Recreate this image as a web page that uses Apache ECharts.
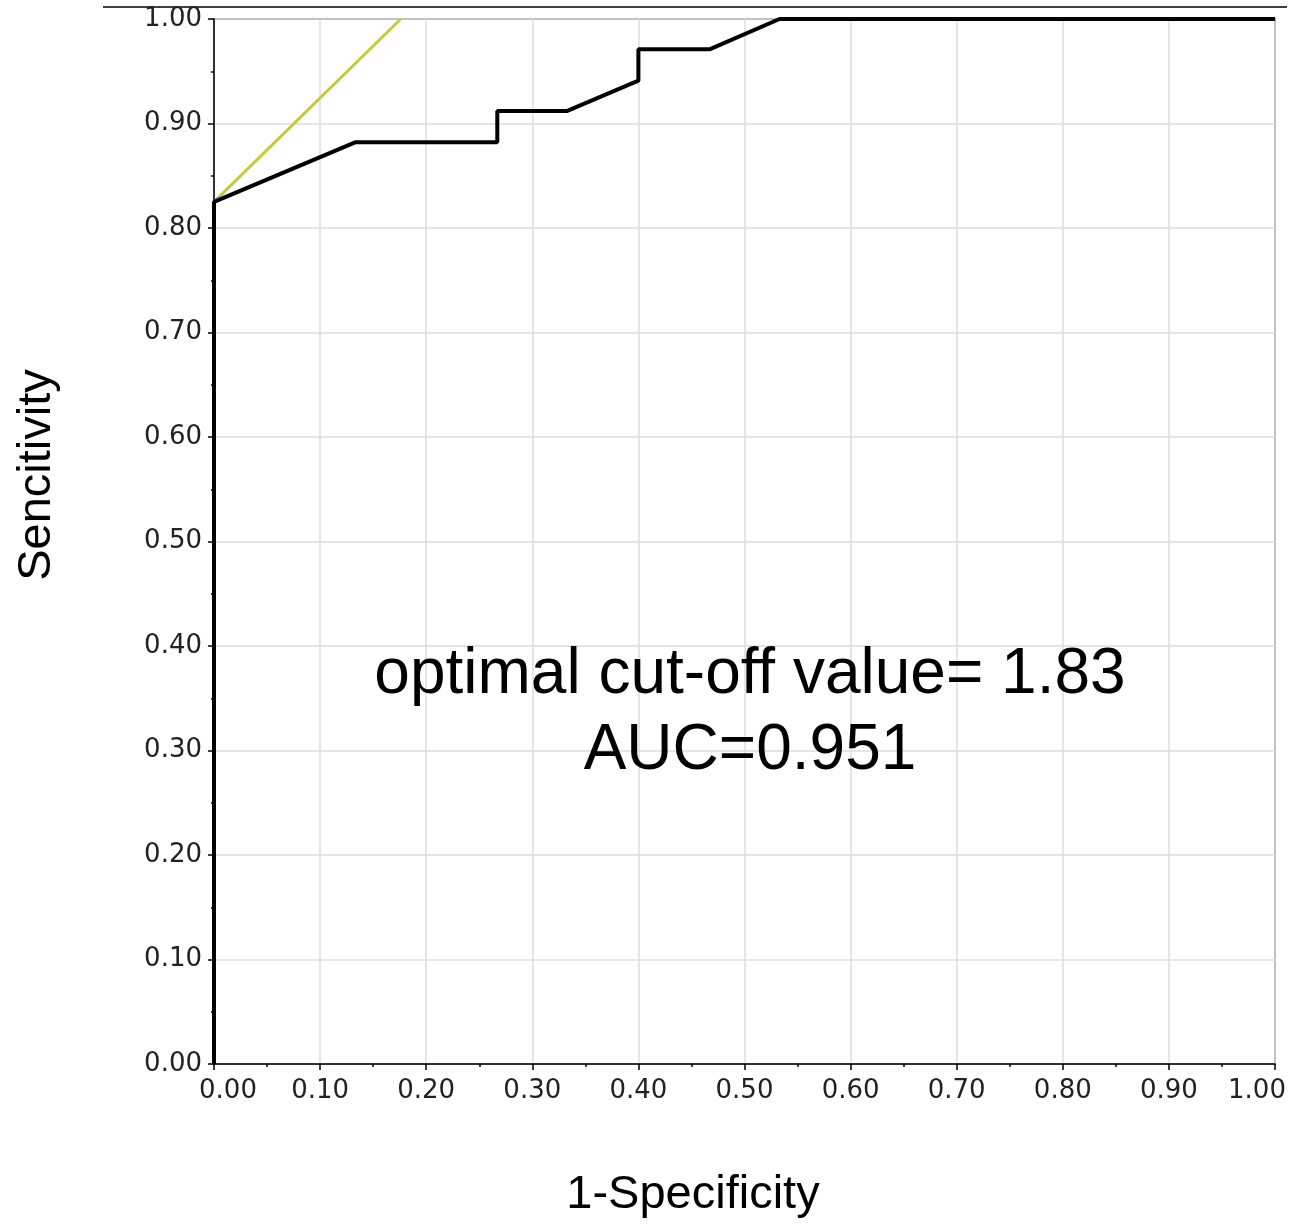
<!DOCTYPE html>
<html>
<head>
<meta charset="utf-8">
<script src="https://cdn.jsdelivr.net/npm/echarts@6/dist/echarts.min.js"></script>
<style>
  html, body { margin: 0; padding: 0; background: #fff; }
  #chart { width: 1295px; height: 1225px; }
</style>
</head>
<body>
<div id="chart"></div>
<script>
// ROC curve (x = 1-specificity, y = sensitivity)
const rocX = [0, 0, 0.133, 0.267, 0.267, 0.333, 0.4, 0.4, 0.467, 0.533, 1.0];
const rocY = [0, 0.825, 0.882, 0.882, 0.912, 0.912, 0.941, 0.971, 0.971, 1.0, 1.0];

// tangent line through the optimal cut-off point
const tangentX = [0, 0.176];
const tangentY = [0.825, 1.0];

const annotationLines = ["optimal cut-off value= 1.83", "AUC=0.951"];
const xName = "1-Specificity";
const yName = "Sencitivity";

const tickFont = { fontFamily: "DejaVu Sans", fontSize: 26, color: "#222" };

const chart = echarts.init(document.getElementById("chart"));

function axis(extra) {
  return Object.assign({
    type: "value",
    min: 0,
    max: 1,
    interval: 0.1,
    axisLine: { show: true, onZero: false, lineStyle: { color: "#000", width: 1.5 } },
    axisTick: { show: true, inside: false, length: 6, lineStyle: { color: "#000", width: 1.5 } },
    minorTick: { show: true, splitNumber: 2, length: 3, lineStyle: { color: "#000", width: 1.5 } },
    splitLine: { show: true, lineStyle: { color: "#dcdcdc", width: 1.5 } },
    axisLabel: Object.assign({ margin: 12, formatter: (v) => v.toFixed(2) }, tickFont)
  }, extra);
}

// first and last x labels are nudged inside the plot, as in the original
function xLabel(v) {
  const text = v.toFixed(2);
  if (v === 0) return `{first|${text}}`;
  if (v === 1) return `{last|${text}}`;
  return text;
}

function bigText(text, x, y, size, rotation) {
  return {
    type: "text",
    x,
    y,
    z: 100,
    rotation: rotation || 0,
    style: { text, fontFamily: "Liberation Sans", fontSize: size, fill: "#000", align: "center", verticalAlign: "middle" }
  };
}

chart.setOption({
  animation: false,
  backgroundColor: "#fff",
  grid: {
    left: 214, right: 20, top: 19, bottom: 161,
    outerBoundsMode: "none", containLabel: false,
    show: true, borderColor: "#444", borderWidth: 1.5
  },
  xAxis: axis({
    axisLabel: Object.assign({
      margin: 14,
      formatter: xLabel,
      rich: {
        first: Object.assign({ padding: [0, 0, 0, 28] }, tickFont),
        last: Object.assign({ padding: [0, 36, 0, 0] }, tickFont)
      }
    }, tickFont)
  }),
  yAxis: axis(),
  series: [
    {
      type: "line",
      data: tangentX.map((x, i) => [x, tangentY[i]]),
      symbol: "none",
      lineStyle: { color: "#c8c83a", width: 3 },
      z: 2
    },
    {
      type: "line",
      data: rocX.map((x, i) => [x, rocY[i]]),
      symbol: "none",
      lineStyle: { color: "#000", width: 4 },
      z: 3
    }
  ],
  graphic: [
    {
      type: "line",
      shape: { x1: 103, y1: 7, x2: 1287, y2: 7 },
      style: { stroke: "#000", lineWidth: 1.5 }
    },
    bigText(annotationLines[0], 750, 675, 64),
    bigText(annotationLines[1], 750, 751, 64),
    bigText(xName, 693, 1195, 47),
    bigText(yName, 37, 475, 47, Math.PI / 2)
  ]
});
</script>
</body>
</html>
